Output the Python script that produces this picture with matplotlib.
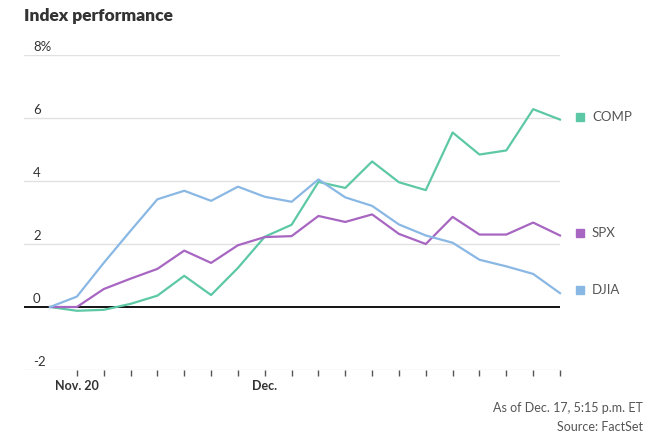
import matplotlib.pyplot as plt
from matplotlib import transforms

plt.rcParams['font.family'] = ['Lato', 'DejaVu Sans']

# trading-day index 0..19 (first point is the day before Nov. 20)
days = list(range(20))
comp = [0, -0.12, -0.09, 0.10, 0.36, 0.99, 0.38, 1.24, 2.23, 2.61,
        3.97, 3.78, 4.62, 3.96, 3.71, 5.54, 4.84, 4.97, 6.28, 5.95]
spx = [0, 0, 0.57, 0.90, 1.21, 1.79, 1.40, 1.96, 2.22, 2.25,
       2.89, 2.70, 2.94, 2.32, 2.00, 2.86, 2.30, 2.30, 2.68, 2.27]
djia = [0, 0.33, 1.40, 2.42, 3.42, 3.69, 3.37, 3.82, 3.50, 3.34,
        4.05, 3.48, 3.21, 2.62, 2.27, 2.04, 1.50, 1.29, 1.05, 0.44]
names = ['COMP', 'SPX', 'DJIA']
colors = ['#5dc8a6', '#a766c1', '#8ab8e4']
y_ticks = [-2, 0, 2, 4, 6, 8]
y_labels = ['-2', '0', '2', '4', '6', '8%']
x_labels = {1: 'Nov. 20', 8: 'Dec.'}

fig = plt.figure(figsize=(6.64, 4.42), dpi=100)
ax = fig.add_axes([24 / 664, 1 - 370 / 442, 536 / 664, 315 / 442])

for yt in y_ticks:
    if yt == 0:
        ax.axhline(0, color='black', lw=1.3, zorder=3)
    else:
        ax.axhline(yt, color='#e1e1e1', lw=1, zorder=0)

series = [comp, spx, djia]
for vals, name, c in zip(series, names, colors):
    ax.plot(days, vals, color=c, lw=1.6, zorder=4, clip_on=False)

ax.set_xlim(-0.97, 19)
ax.set_ylim(-2, 8)
for s in ax.spines.values():
    s.set_visible(False)
ax.set_yticks([])
ax.set_xticks(days[1:])
ax.set_xticklabels([x_labels.get(d, '') for d in days[1:]],
                   fontsize=9, fontweight='bold', color='#333333')
ax.tick_params(axis='x', length=4, width=1, color='#555555', pad=3)

# y labels sit above the gridlines
trans = transforms.blended_transform_factory(fig.transFigure, ax.transData)
off = transforms.offset_copy(trans, fig=fig, y=6, units='points')
for yt, lab in zip(y_ticks, y_labels):
    ax.text(33 / 664, yt, lab, transform=off, ha='left', va='center',
            fontsize=9.5, color='#333333')

# end labels: small square + name, a little above the last value
sq_trans = transforms.offset_copy(ax.transData, fig=fig, x=14.5, y=2, units='points')
lab_trans = transforms.offset_copy(ax.transData, fig=fig, x=23, y=2, units='points')
for vals, name, c in zip(series, names, colors):
    ax.plot([19], [vals[-1]], marker='s', markersize=6, color=c, lw=0,
            transform=sq_trans, clip_on=False)
    ax.text(19, vals[-1], name, transform=lab_trans, ha='left', va='center',
            fontsize=9.5, color='#555555')

fig.text(24 / 664, 1 - 16 / 442, 'Index performance', fontsize=12.5,
         fontweight='heavy', color='#333333', ha='left', va='center')
fig.text(643 / 664, 1 - 408 / 442, 'As of Dec. 17, 5:15 p.m. ET',
         fontsize=9, color='#555555', ha='right', va='center')
fig.text(643 / 664, 1 - 427 / 442, 'Source: FactSet',
         fontsize=9, color='#555555', ha='right', va='center')

fig.savefig('out.png', dpi=100)
